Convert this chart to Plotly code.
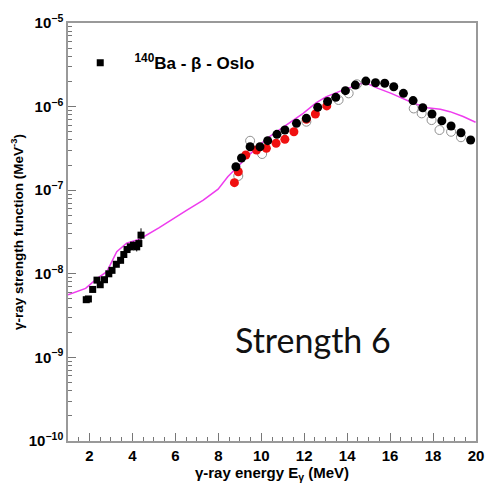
import plotly.graph_objects as go

# Low-energy Oslo data (black squares)
sq_E = [1.85, 1.95, 2.15, 2.35, 2.5, 2.7, 2.9, 3.05, 3.25, 3.45, 3.6, 3.75, 3.9, 4.05, 4.2, 4.3, 4.4]
sq_f = [4.9e-9, 5.0e-9, 6.5e-9, 8.4e-9, 7.4e-9, 8.5e-9, 1.0e-8, 1.1e-8, 1.3e-8, 1.45e-8, 1.7e-8,
        1.95e-8, 2.1e-8, 2.2e-8, 2.1e-8, 2.3e-8, 2.9e-8]
sq_err = [0.3e-9, 0.3e-9, 0.5e-9, 0.6e-9, 0.6e-9, 0.7e-9, 0.8e-9, 0.9e-9, 1.0e-9, 1.2e-9, 1.4e-9,
          1.7e-9, 2.0e-9, 2.2e-9, 2.5e-9, 3.0e-9, 6.0e-9]

# High-energy black circles
bk_E = [8.82, 9.08, 9.48, 9.94, 10.30, 10.73, 11.10, 11.64, 12.10, 12.63, 13.09, 13.47, 13.92,
        14.38, 14.87, 15.32, 15.75, 16.17, 16.62, 17.07, 17.52, 17.95, 18.41, 18.84, 19.30, 19.75]
bk_f = [1.91e-7, 2.43e-7, 3.31e-7, 3.31e-7, 3.91e-7, 4.66e-7, 5.25e-7, 6.31e-7, 7.24e-7, 9.8e-7,
        1.15e-6, 1.29e-6, 1.55e-6, 1.81e-6, 2.02e-6, 1.93e-6, 1.90e-6, 1.73e-6, 1.44e-6, 1.18e-6,
        9.7e-7, 8.15e-7, 6.78e-7, 5.86e-7, 4.87e-7, 3.98e-7]

# Red circles
rd_E = [8.75, 8.93, 9.28, 9.78, 10.24, 10.69, 11.10, 11.52, 12.10, 12.52, 13.05]
rd_f = [1.23e-7, 1.66e-7, 2.64e-7, 3.03e-7, 3.17e-7, 3.64e-7, 4.06e-7, 5.0e-7, 7.05e-7, 8.15e-7, 1.02e-6]

# Open circles
op_E = [8.93, 9.48, 10.04, 12.1, 13.6, 14.07, 14.45, 17.1, 17.47, 17.93, 18.3, 18.84, 19.3]
op_f = [1.48e-7, 3.9e-7, 2.71e-7, 6.6e-7, 1.2e-6, 1.44e-6, 1.85e-6, 9.5e-7, 8.3e-7, 6.9e-7, 5.25e-7, 5.0e-7, 4.3e-7]

# Model curve (magenta)
ln_E = [1.0, 1.82, 2.36, 2.81, 3.27, 3.73, 4.33, 5.25, 6.5, 7.3, 7.99, 8.44, 8.90, 9.51, 10.27, 11.03,
        11.95, 12.55, 13.01, 13.62, 14.23, 14.68, 14.99, 15.44, 16.05, 16.66, 17.12, 17.73,
        18.34, 18.79, 19.40, 19.98]
ln_f = [5.6e-9, 6.7e-9, 8.8e-9, 1.06e-8, 1.84e-8, 2.32e-8, 2.59e-8, 3.56e-8, 5.7e-8, 7.6e-8, 1.03e-7,
        1.45e-7, 1.91e-7, 2.76e-7, 4.18e-7, 5.75e-7, 8.3e-7, 1.11e-6, 1.31e-6, 1.51e-6, 1.73e-6,
        1.90e-6, 1.86e-6, 1.65e-6, 1.44e-6, 1.22e-6, 1.09e-6, 9.7e-7, 9.3e-7, 8.7e-7, 7.6e-7, 6.5e-7]

y_tickvals = [1e-10, 1e-9, 1e-8, 1e-7, 1e-6, 1e-5]
y_ticktext = ["<b>10<sup>\u221210</sup></b>", "<b>10<sup>\u22129</sup></b>", "<b>10<sup>\u22128</sup></b>",
              "<b>10<sup>\u22127</sup></b>", "<b>10<sup>\u22126</sup></b>", "<b>10<sup>\u22125</sup></b>"]
x_tickvals = [2, 4, 6, 8, 10, 12, 14, 16, 18, 20]

y_minor = [k * 10.0 ** e for e in range(-10, -5) for k in range(2, 10)]

fig = go.Figure()
fig.add_trace(go.Scatter(x=ln_E, y=ln_f, mode="lines", line=dict(color="#ee3cee", width=1.5),
                         showlegend=False))
fig.add_trace(go.Scatter(x=op_E, y=op_f, mode="markers",
                         marker=dict(symbol="circle-open", size=9, color="#909090", line=dict(width=1)),
                         showlegend=False))
fig.add_trace(go.Scatter(x=rd_E, y=rd_f, mode="markers",
                         marker=dict(symbol="circle", size=9, color="#f01010"), showlegend=False))
fig.add_trace(go.Scatter(x=bk_E, y=bk_f, mode="markers",
                         marker=dict(symbol="circle", size=9, color="black"), showlegend=False))
fig.add_trace(go.Scatter(x=sq_E, y=sq_f, mode="markers",
                         error_y=dict(type="data", array=sq_err, color="black", thickness=1, width=0),
                         marker=dict(symbol="square", size=7, color="black"),
                         name="&nbsp;&nbsp;&nbsp;<b><sup>140</sup>Ba - \u03b2 - Oslo</b>", showlegend=True))

fig.add_annotation(text="Strength 6", x=0.6, y=0.19, xref="paper", yref="paper",
                   showarrow=False, font=dict(family="Lato", size=34, color="#111"))

fig.update_layout(
    width=493, height=485,
    margin=dict(l=68, r=9, t=23, b=44),
    paper_bgcolor="white", plot_bgcolor="white",
    font=dict(family="Liberation Sans, Arial", color="black"),
    legend=dict(x=0.03, y=0.904, xanchor="left", yanchor="middle", bgcolor="rgba(0,0,0,0)",
                font=dict(size=17, family="Liberation Sans, Arial"), itemwidth=30),
    xaxis=dict(range=[1, 20], tickvals=x_tickvals, ticktext=["<b>%d</b>" % v for v in x_tickvals],
               ticks="inside", ticklen=8, tickcolor="#777", showline=True, linecolor="#999",
               linewidth=1.5, mirror=True, showgrid=False, zeroline=False,
               tickfont=dict(size=15),
               minor=dict(ticks="inside", ticklen=4, dtick=0.5, tickcolor="#777", showgrid=False),
               title=dict(text="<b>\u03b3-ray energy E<sub>\u03b3</sub> (MeV)</b>", font=dict(size=15),
                          standoff=2)),
    yaxis=dict(type="log", range=[-10, -5], tickvals=y_tickvals, ticktext=y_ticktext,
               ticks="inside", ticklen=8, tickcolor="#777", showline=True, linecolor="#999",
               linewidth=1.5, mirror=True, showgrid=False, zeroline=False,
               tickfont=dict(size=15),
               minor=dict(ticks="inside", ticklen=4, tickmode="array", tickvals=y_minor,
                          tickcolor="#777", showgrid=False),
               title=dict(text="<b>\u03b3-ray strength function (MeV<sup>-3</sup>)</b>",
                          font=dict(size=13.5), standoff=2)),
)

fig.write_html("out.html")
